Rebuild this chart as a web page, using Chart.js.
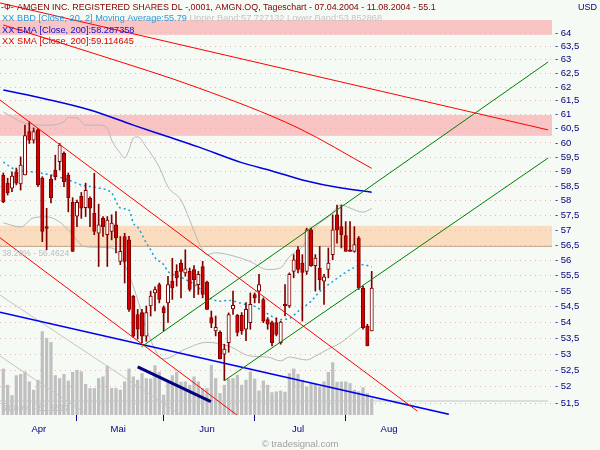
<!DOCTYPE html>
<html>
<head>
<meta charset="utf-8">
<script src="https://cdn.jsdelivr.net/npm/chart.js@4.4.0/dist/chart.umd.min.js"></script>
<style>
  html, body { margin: 0; padding: 0; background: #f5faf5; }
</style>
</head>
<body>
<canvas id="chart" width="600" height="450"></canvas>
<script>
// AMGEN daily candles, session 0 = 07.04.2004
const opens = [
  58.88, 58.60, 58.43, 58.99, 58.57, 58.88, 60.40, 60.10, 60.46, 58.77,
  57.12, 58.74, 59.05, 59.34, 59.63, 58.88, 57.94, 57.47, 58.15, 57.76,
  58.08, 57.57, 56.90, 57.40, 56.85, 56.96, 57.18, 55.97, 56.79, 56.68,
  54.83, 54.25, 54.31, 53.56, 54.52, 54.94, 55.21, 54.47, 54.62, 55.32,
  55.64, 55.91, 55.59, 55.64, 55.70, 55.21, 55.80, 55.29, 54.15, 53.73,
  53.68, 53.00, 53.36, 54.43, 54.22, 54.22, 53.78, 53.99, 54.89, 55.00,
  54.73, 54.09, 53.99, 53.99, 53.36, 54.57, 54.52, 55.64, 56.35, 55.91,
  55.64, 57.01, 55.83, 55.75, 55.32, 55.70, 56.19, 57.52, 57.12, 56.82,
  56.35, 56.30, 56.74, 55.10, 53.88, 53.73
];
const highs = [
  58.95, 58.77, 58.99, 59.12, 59.51, 60.63, 60.75, 60.53, 60.51, 58.82,
  57.74, 58.88, 59.57, 59.98, 59.69, 58.95, 58.10, 58.02, 58.28, 58.60,
  58.13, 58.94, 57.88, 57.46, 57.46, 57.52, 57.63, 56.79, 56.90, 56.80,
  54.86, 54.41, 54.41, 54.52, 55.00, 55.14, 55.26, 54.52, 55.48, 56.07,
  55.86, 56.02, 56.35, 55.75, 55.83, 55.64, 55.97, 55.32, 54.36, 54.20,
  53.73, 53.31, 54.30, 55.00, 54.25, 54.31, 54.63, 54.94, 54.94, 55.54,
  54.78, 54.15, 54.04, 54.14, 54.04, 55.21, 55.59, 56.19, 56.46, 56.19,
  57.07, 57.07, 56.19, 56.46, 55.54, 56.41, 57.52, 57.85, 57.85, 57.29,
  57.29, 57.12, 56.79, 55.16, 53.94, 55.64
];
const lows = [
  57.93, 58.19, 58.31, 58.54, 58.36, 58.88, 59.98, 59.99, 58.48, 56.62,
  56.35, 57.92, 58.71, 59.05, 58.48, 57.62, 56.30, 57.12, 57.40, 57.46,
  57.12, 56.85, 55.80, 56.79, 55.80, 56.68, 56.25, 55.86, 55.26, 54.35,
  53.52, 53.47, 53.36, 53.40, 54.20, 54.36, 54.62, 53.73, 54.00, 54.73,
  55.16, 54.78, 55.48, 55.00, 54.79, 54.89, 54.78, 54.41, 53.83, 53.57,
  52.85, 52.19, 53.06, 54.25, 53.57, 53.62, 53.42, 53.78, 54.62, 54.62,
  53.99, 53.78, 53.26, 53.57, 53.31, 54.20, 54.47, 55.43, 55.59, 54.04,
  55.54, 55.80, 55.00, 55.05, 54.57, 55.43, 56.02, 56.57, 56.41, 56.30,
  56.30, 56.27, 55.05, 53.78, 53.26, 53.73
];
const closes = [
  57.96, 58.26, 58.84, 58.60, 59.22, 60.26, 60.10, 60.40, 58.54, 56.96,
  57.06, 58.10, 58.82, 59.92, 58.65, 58.10, 56.30, 57.94, 57.74, 58.35,
  57.74, 56.96, 57.18, 57.12, 57.34, 57.24, 56.74, 56.30, 55.97, 54.41,
  53.56, 53.78, 53.56, 54.31, 54.84, 55.05, 54.73, 54.31, 55.21, 55.10,
  55.43, 55.64, 55.72, 55.05, 55.37, 55.54, 54.89, 54.41, 53.97, 53.84,
  52.85, 53.16, 54.25, 54.54, 53.68, 53.73, 54.41, 54.57, 54.78, 55.21,
  54.04, 53.94, 53.36, 53.62, 54.01, 54.52, 55.54, 56.02, 55.70, 55.61,
  57.01, 55.83, 56.08, 55.37, 55.46, 55.91, 57.01, 57.01, 56.85, 56.30,
  56.30, 56.52, 55.10, 53.83, 53.26, 55.10
];
// volume, million shares
const volumes = [
  11.1, 7.2, 4.7, 9.5, 9.8, 10.4, 8.0, 6.0, 8.4, 20.1,
  18.5, 17.5, 9.5, 8.8, 9.8, 8.2, 10.3, 10.8, 10.4, 7.4,
  6.4, 6.4, 8.8, 9.2, 11.8, 6.4, 6.4, 6.0, 8.0, 11.1,
  9.2, 8.4, 10.0, 8.8, 8.7, 11.9, 10.3, 4.8, 8.2, 9.5,
  10.3, 7.9, 8.0, 7.2, 9.2, 8.0, 6.4, 6.4, 12.0, 8.8,
  5.2, 7.2, 8.7, 8.8, 9.6, 7.2, 8.4, 10.4, 8.7, 5.8,
  8.2, 7.2, 5.4, 5.6, 5.8, 5.5, 10.0, 11.1, 9.8, 8.4,
  6.8, 7.6, 7.4, 6.8, 8.0, 10.3, 12.6, 7.9, 8.0, 8.0,
  7.6, 6.0, 5.6, 6.6, 5.2, 3.9
];

// Bollinger bands [Close, 20, 2]
const bbUpIdx = [0, 5, 10, 14, 15, 17, 19, 22, 24, 25, 27, 28, 29, 30, 31, 33, 36, 38, 41, 43, 45, 47, 49, 53, 57, 61, 64, 66, 69, 72, 75, 78, 80, 83, 85];
const bbUpVal = [61.1, 60.7, 60.63, 60.75, 60.9, 60.88, 60.63, 60.63, 60.53, 60.10, 59.64, 59.47, 59.75, 60.17, 60.21, 59.85, 59.15, 58.47, 58.02, 57.35, 56.62, 56.19, 56.25, 56.15, 55.96, 55.70, 55.76, 56.12, 56.45, 57.11, 57.45, 57.85, 57.75, 57.61, 57.73];
const bbMidIdx = [0, 3, 7, 11, 15, 18, 22, 25, 27, 29, 30, 31, 33, 34, 35, 37, 38, 41, 45, 47, 50, 52, 55, 58, 60, 64, 66, 68, 71, 73, 76, 79, 81, 83, 85];
const bbMidVal = [59.33, 59.05, 58.98, 58.88, 58.71, 58.54, 58.43, 58.26, 57.75, 57.68, 57.24, 57.11, 56.58, 56.35, 56.09, 55.86, 55.64, 55.45, 55.12, 54.83, 54.67, 54.70, 54.60, 54.51, 54.35, 54.09, 54.12, 54.35, 54.67, 54.99, 55.31, 55.61, 55.77, 55.86, 55.79];
const bbLoIdx = [0, 4, 7, 10, 13, 15, 19, 25, 28, 31, 33, 37, 42, 47, 52, 57, 61, 64, 66, 70, 72, 75, 78, 81, 83, 85];
const bbLoVal = [57.25, 57.11, 57.42, 57.45, 57.28, 57.01, 56.45, 56.41, 55.86, 54.73, 53.78, 52.85, 53.16, 53.37, 53.25, 52.94, 52.91, 52.79, 52.91, 52.82, 52.94, 53.16, 53.37, 53.68, 53.86, 53.85];

// EMA / SMA [Close, 200]
const emaIdx = [0, 10, 20, 30, 37, 45, 55, 62, 69, 78, 85];
const emaVal = [61.89, 61.56, 61.17, 60.63, 60.27, 59.86, 59.31, 59.02, 58.71, 58.43, 58.29];
const smaIdx = [0, 22, 45, 68, 85];
const smaVal = [64.30, 63.18, 61.97, 60.53, 59.11];

// drawn trend lines: [start, end] in sessions and USD
const resistIdx = [-0.76, 125.7], resistVal = [65.14, 60.46];
const chanUpIdx = [-0.76, 95.5], chanUpVal = [61.53, 51.26];
const chanLoIdx = [-0.76, 53.9], chanLoVal = [56.75, 51.14];
const riseUpIdx = [31.9, 125.7], riseUpVal = [53.23, 62.92];
const riseLoIdx = [51.0, 125.7], riseLoVal = [52.18, 59.47];
const supportIdx = [-0.76, 102.8], supportVal = [54.32, 51.16];
const greyAIdx = [-0.76, 40.8], greyAVal = [54.87, 51.16];
const greyBIdx = [-0.76, 19.3], greyBVal = [52.94, 51.16];
const volTrendIdx = [31.0, 47.9], volTrendVal = [11.6, 3.2];

// zones and fibonacci levels
const zoneLow = [63.93, 60.25, 56.46];
const zoneHigh = [64.49, 60.99, 57.15];
const fibLevels = [56.4624, 51.5617];
const fibLabels = ['38.20% - 56.4624', '61.80% - 51.5617'];

// axes
const priceTicks = [51.5, 52, 52.5, 53, 53.5, 54, 54.5, 55, 55.5, 56, 56.5, 57, 57.5, 58, 58.5, 59, 59.5, 60, 60.5, 61, 61.5, 62, 62.5, 63, 63.5, 64];
const monthTicks = [17, 37, 58, 79];
const monthLabelPos = [8.2, 26.5, 47, 68, 89];
const monthLabels = ['Apr', 'Mai', 'Jun', 'Jul', 'Aug'];

const xMin = -0.76, xMax = 126.6;
const yMin = 51.14, yMax = 65.252;
const FONT = '"Liberation Sans", Arial, sans-serif';

const pts = (xs, ys) => xs.map((x, i) => ({ x: x, y: ys[i] }));
const sessions = opens.map((_, i) => i);

function line(xs, ys, color, width, order, extra) {
  return Object.assign({
    type: 'line',
    data: pts(xs, ys),
    borderColor: color,
    borderWidth: width,
    pointRadius: 0,
    tension: 0,
    order: order
  }, extra || {});
}

const backdrop = {
  id: 'backdrop',
  beforeDraw(chart) {
    const { ctx, chartArea: a, scales: { y } } = chart;
    const colors = ['#f8c4c4', '#f8c4c4', '#fadcbf'];
    ctx.save();
    ctx.fillStyle = '#f5faf5';
    ctx.fillRect(0, 0, chart.width, chart.height);
    zoneLow.forEach((lo, k) => {
      const top = y.getPixelForValue(zoneHigh[k]);
      const bot = y.getPixelForValue(lo);
      ctx.fillStyle = colors[k];
      ctx.fillRect(a.left, top, a.right - a.left, bot - top);
    });
    ctx.restore();
  },
  afterDraw(chart) {
    const { ctx, scales: { y } } = chart;
    ctx.save();
    ctx.textAlign = 'left';
    ctx.textBaseline = 'alphabetic';

    ctx.font = '8.9px ' + FONT;
    ctx.fillStyle = '#800000';
    ctx.fillText('-Ф-', 1, 10);
    ctx.fillText('AMGEN INC. REGISTERED SHARES DL -,0001, AMGN.OQ, Tageschart - 07.04.2004 - 11.08.2004 - 55.1', 17, 10);

    ctx.font = '9.2px ' + FONT;
    ctx.fillStyle = '#2a9ad8';
    ctx.fillText('XX', 2, 21);
    const bbText = 'BBD [Close, 20, 2] Moving Average:55.79';
    ctx.fillText(bbText, 17, 21);
    ctx.fillStyle = '#c4c4c4';
    ctx.fillText('Upper Band:57.727132 Lower Band:53.852868', 17 + ctx.measureText(bbText + ' ').width, 21);

    ctx.fillStyle = '#1010d0';
    ctx.fillText('XX', 2, 33);
    ctx.fillText('EMA [Close, 200]:58.287358', 17, 33);

    ctx.fillStyle = '#e00000';
    ctx.fillText('XX', 2, 44);
    ctx.fillText('SMA [Close, 200]:59.114645', 17, 44);

    ctx.fillStyle = '#000080';
    ctx.font = '9px ' + FONT;
    ctx.fillText('USD', 578, 9.5);

    ctx.fillStyle = '#bdbdbd';
    ctx.font = '8.5px ' + FONT;
    fibLevels.forEach((v, k) => {
      ctx.fillText(fibLabels[k], 2, y.getPixelForValue(v) + 9.5);
    });

    ctx.fillStyle = '#a0a0a0';
    ctx.font = '9.5px ' + FONT;
    ctx.textAlign = 'center';
    ctx.fillText('© tradesignal.com', 300, 447);
    ctx.restore();
  }
};

const datasets = [
  {
    type: 'bar',
    yAxisID: 'yv',
    data: pts(sessions, volumes),
    backgroundColor: '#c0c0c0',
    barThickness: 2.6,
    grouped: false,
    order: 20
  },
  line([xMin, xMax], [fibLevels[0], fibLevels[0]], '#c6a894', 1, 19),
  line([xMin, 125.7], [fibLevels[1], fibLevels[1]], '#c4c4c4', 1, 19),
  line(greyAIdx, greyAVal, '#c4c4c4', 1, 18),
  line(greyBIdx, greyBVal, '#c4c4c4', 1, 18),
  line(bbUpIdx, bbUpVal, '#b8b8b8', 1, 17, { cubicInterpolationMode: 'monotone' }),
  line(bbLoIdx, bbLoVal, '#b8b8b8', 1, 17, { cubicInterpolationMode: 'monotone' }),
  line(bbMidIdx, bbMidVal, '#1a9fd2', 1.5, 16, { cubicInterpolationMode: 'monotone', borderDash: [2, 3] }),
  line(emaIdx, emaVal, '#0000e0', 1.5, 15, { cubicInterpolationMode: 'monotone' }),
  line(smaIdx, smaVal, '#ff0000', 1, 15, { cubicInterpolationMode: 'monotone' }),
  {
    type: 'bar',
    data: sessions.map(i => ({ x: i, y: [lows[i], highs[i]] })),
    backgroundColor: '#800000',
    barThickness: 1,
    grouped: false,
    order: 10
  },
  {
    type: 'bar',
    data: sessions.map(i => ({ x: i, y: [Math.min(opens[i], closes[i]), Math.max(opens[i], closes[i])] })),
    backgroundColor: sessions.map(i => closes[i] >= opens[i] ? '#ffffff' : '#d40000'),
    borderColor: '#800000',
    borderWidth: 1,
    borderSkipped: false,
    barThickness: 3.4,
    grouped: false,
    order: 9
  },
  line(resistIdx, resistVal, '#ff0000', 1, 5),
  line(chanUpIdx, chanUpVal, '#ff0000', 1, 5),
  line(chanLoIdx, chanLoVal, '#ff0000', 1, 5),
  line(riseUpIdx, riseUpVal, '#008000', 1, 5),
  line(riseLoIdx, riseLoVal, '#008000', 1, 5),
  line(supportIdx, supportVal, '#0000ee', 1.5, 5),
  line(volTrendIdx, volTrendVal, '#000080', 3, 4, { yAxisID: 'yv' })
];

new Chart(document.getElementById('chart'), {
  type: 'line',
  data: { datasets: datasets },
  options: {
    responsive: false,
    animation: false,
    events: [],
    layout: { padding: 0 },
    plugins: { legend: { display: false }, tooltip: { enabled: false } },
    scales: {
      x: {
        type: 'linear',
        position: 'bottom',
        min: xMin,
        max: xMax,
        bounds: 'data',
        offset: false,
        afterBuildTicks: axis => {
          axis.ticks = monthTicks.concat(monthLabelPos).sort((a, b) => a - b).map(v => ({ value: v }));
        },
        afterFit: axis => {
          axis.height = 35;
          axis.paddingLeft = 0;
          axis.paddingRight = 0;
        },
        ticks: {
          autoSkip: false,
          maxRotation: 0,
          padding: 3,
          color: '#000080',
          font: { size: 9.5, family: FONT },
          callback: v => {
            const k = monthLabelPos.indexOf(v);
            return k >= 0 ? monthLabels[k] : '';
          }
        },
        grid: {
          offset: false,
          drawOnChartArea: false,
          tickLength: 6,
          tickColor: c => (c.tick && monthTicks.includes(c.tick.value)) ? '#000080' : 'rgba(0,0,0,0)'
        },
        border: { display: false }
      },
      y: {
        type: 'logarithmic',
        position: 'right',
        min: yMin,
        max: yMax,
        bounds: 'data',
        afterBuildTicks: axis => { axis.ticks = priceTicks.map(v => ({ value: v })); },
        afterFit: axis => {
          axis.width = 48;
          axis.paddingTop = 0;
          axis.paddingBottom = 0;
        },
        ticks: {
          autoSkip: false,
          padding: 3,
          color: '#000080',
          font: { size: 9.5, family: FONT },
          callback: v => '- ' + String(v).replace('.', ',')
        },
        grid: { color: '#efb3b3', drawTicks: false },
        border: { display: false, dash: [1, 4] }
      },
      yv: { type: 'linear', display: false, min: 0, max: 100 }
    }
  },
  plugins: [backdrop]
});
</script>
</body>
</html>
